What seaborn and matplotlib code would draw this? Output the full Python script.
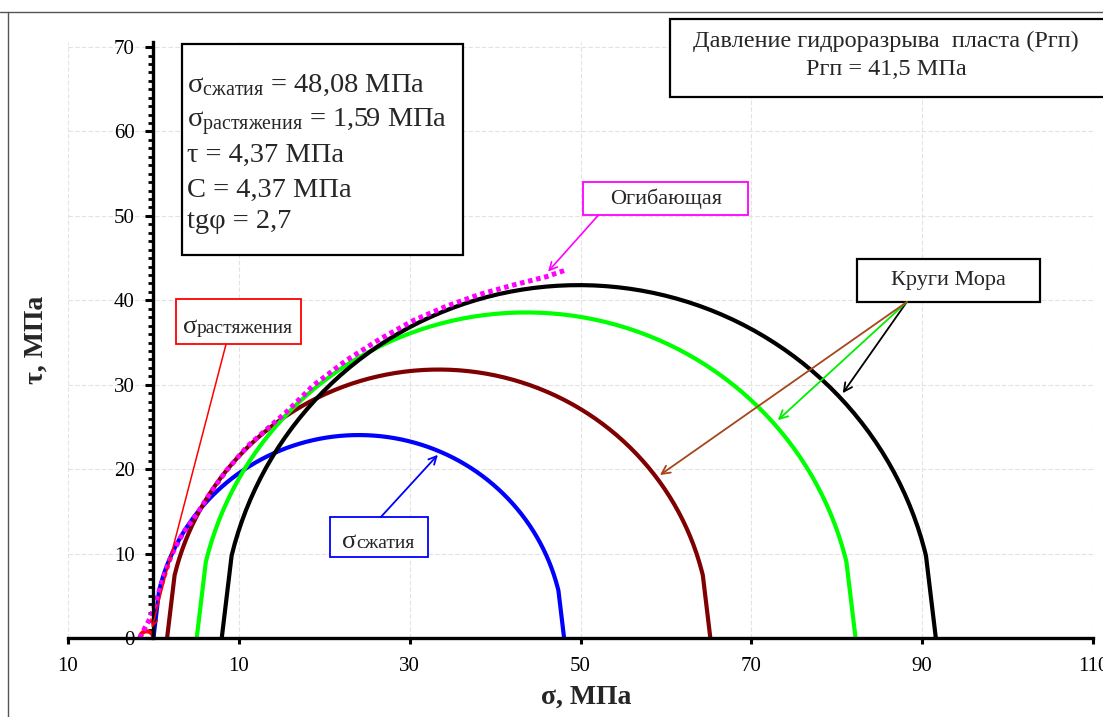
import numpy as np
import pandas as pd
import matplotlib
matplotlib.use("Agg")
import matplotlib.pyplot as plt
from matplotlib.lines import Line2D
from matplotlib.patches import Rectangle
from matplotlib.ticker import FixedLocator, MultipleLocator
import seaborn as sns

# Mohr circles: minor / major principal stress, MPa
circle_names = ["растяжение", "сжатие", "круг 1", "круг 2", "круг 3"]
sigma_3 = [-1.59, 0.0, 1.6, 5.07, 8.0]
sigma_1 = [0.0, 48.08, 65.2, 82.2, 91.6]
circle_colors = ["#FF0000", "#0000FF", "#7F0000", "#00FF00", "#000000"]

# Envelope of the circles (Огибающая)
envelope_sigma = [-1.59, -1.0, -0.4, 0.2, 1.2, 2.1, 3.5, 5.1, 6.6, 8.6, 10.9, 13.0,
                  15.5, 18.7, 22.6, 26.5, 30.4, 34.3, 38.2, 42.1, 46.0, 48.3]
envelope_tau = [0.0, 1.2, 2.3, 4.0, 7.2, 9.8, 12.5, 14.7, 17.1, 19.9, 22.6, 24.5,
                26.7, 29.9, 32.9, 35.4, 37.6, 39.3, 40.7, 41.8, 42.8, 43.6]

x_ticks = [-10, 10, 30, 50, 70, 90, 110]
x_tick_labels = ["10", "10", "30", "50", "70", "90", "110"]
y_ticks = [0, 10, 20, 30, 40, 50, 60, 70]

stats_lines = [
    "σ$_{\\mathregular{сжатия}}$ = 48,08 МПа",
    "σ$_{\\mathregular{растяжения}}$ = 1,59 МПа",
    "τ = 4,37 МПа",
    "C = 4,37 МПа",
    "tgφ = 2,7",
]
pressure_lines = ["Давление гидроразрыва  пласта (Ргп)", "Ргп = 41,5 МПа"]

sns.set_theme(style="white")
plt.rcParams["font.family"] = ["Liberation Serif", "DejaVu Serif"]
plt.rcParams["mathtext.fontset"] = "custom"
plt.rcParams["mathtext.rm"] = "Liberation Serif"
plt.rcParams["mathtext.it"] = "Liberation Serif:italic"
plt.rcParams["mathtext.default"] = "regular"

fig = plt.figure(figsize=(11.03, 7.17), dpi=100)
fig.patch.set_facecolor("white")
ax = fig.add_axes([68 / 1103, 1 - 638 / 717, 1025 / 1103, 596 / 717])
ax.set_facecolor("white")

# circle outlines built from each pair of principal stresses
frames = []
for name, s3, s1 in zip(circle_names, sigma_3, sigma_1):
    c, r = (s1 + s3) / 2, (s1 - s3) / 2
    theta = np.radians(np.concatenate([[0.0], np.linspace(13.5, 166.5, 160), [180.0]]))
    frames.append(pd.DataFrame({
        "circle": name,
        "sigma": c - r * np.cos(theta),
        "tau": r * np.sin(theta),
    }))
circles = pd.concat(frames, ignore_index=True)

sns.lineplot(data=circles, x="sigma", y="tau", hue="circle", hue_order=circle_names,
             palette=dict(zip(circle_names, circle_colors)), sort=False,
             estimator=None, lw=3.0, legend=False, ax=ax, zorder=3)

sns.lineplot(x=envelope_sigma, y=envelope_tau, sort=False, estimator=None,
             color="#FF00FF", lw=3.6, linestyle=(0, (0.9, 0.75)), ax=ax, zorder=4)

# axes and ticks
ax.set_xlim(-10, 110)
ax.set_ylim(0, 70.6)
ax.spines["left"].set_position(("data", 0))
ax.spines["top"].set_visible(False)
ax.spines["right"].set_visible(False)
for side in ("left", "bottom"):
    ax.spines[side].set_linewidth(2.4)
    ax.spines[side].set_color("black")
    ax.spines[side].set_zorder(5)

ax.xaxis.set_major_locator(FixedLocator(x_ticks))
ax.set_xticklabels(x_tick_labels)
ax.yaxis.set_major_locator(FixedLocator(y_ticks))
ax.yaxis.set_minor_locator(MultipleLocator(1))
ax.tick_params(axis="x", which="major", direction="out", length=4.5, width=2.2,
               pad=9, labelsize=15, bottom=True, colors="black")
ax.tick_params(axis="y", which="major", direction="out", length=5.5, width=2.2,
               pad=8, labelsize=15, left=True, colors="black")
ax.tick_params(axis="y", which="minor", direction="out", length=3.5, width=2.0,
               left=True, color="black")
ax.set_xlabel("")
ax.set_ylabel("")

ax.grid(True, which="major", color="#E2E2E2", linestyle=(0, (4, 2)), lw=0.8)
ax.set_axisbelow(True)

fig.text(586 / 1103, 1 - 697 / 717, "σ, МПа", ha="center", va="center",
         fontsize=20, fontweight="bold")
fig.text(36 / 1103, 1 - 340 / 717, "τ, МПа", ha="center", va="center",
         fontsize=20, fontweight="bold", rotation=90)


def frame(x0, y0, x1, y1, color, lw=1.4):
    ax.add_patch(Rectangle((x0, y0), x1 - x0, y1 - y0, fill=True, facecolor="white",
                           edgecolor=color, lw=lw, zorder=6, clip_on=False))


# parameters box
frame(3.35, 45.4, 36.2, 70.36, "black", lw=1.6)
for line, base in zip(stats_lines, [64.7, 60.5, 56.4, 52.2, 48.6]):
    ax.text(3.9, base, line, fontsize=20.5, ha="left", va="baseline", zorder=7)

# fracture pressure box
frame(60.5, 64.1, 111.5, 73.3, "black", lw=1.6)
ax.text(85.8, 70.0, pressure_lines[0], fontsize=17.5, ha="center", va="baseline",
        zorder=7, clip_on=False)
ax.text(85.8, 66.7, pressure_lines[1], fontsize=17.5, ha="center", va="baseline",
        zorder=7, clip_on=False)

# tensile strength label
frame(2.65, 34.8, 17.3, 40.2, "#FF0000", lw=1.3)
ax.text(5.1, 36.1, "σ", fontsize=19, ha="right", va="baseline", zorder=7)
ax.text(5.1, 36.1, "растяжения", fontsize=14, ha="left", va="baseline", zorder=7)
ax.annotate("", xy=(-0.16, 1.2), xytext=(8.5, 34.8),
            arrowprops=dict(arrowstyle="->", color="#FF0000", lw=1.1,
                            mutation_scale=12, shrinkA=0, shrinkB=0), zorder=7)

# compressive strength label
frame(20.7, 9.6, 32.1, 14.3, "#0000FF", lw=1.3)
ax.text(23.8, 10.7, "σ", fontsize=19, ha="right", va="baseline", zorder=7)
ax.text(23.8, 10.7, "сжатия", fontsize=14, ha="left", va="baseline", zorder=7)
ax.annotate("", xy=(33.3, 21.7), xytext=(26.6, 14.3),
            arrowprops=dict(arrowstyle="->", color="#0000FF", lw=1.3,
                            mutation_scale=14, shrinkA=0, shrinkB=0), zorder=7)

# envelope label
frame(50.3, 50.1, 69.6, 54.0, "#FF00FF", lw=1.3)
ax.text(60.0, 52.0, "Огибающая", fontsize=16, ha="center", va="center", zorder=7)
ax.annotate("", xy=(46.2, 43.4), xytext=(52.1, 50.1),
            arrowprops=dict(arrowstyle="->", color="#FF00FF", lw=1.2,
                            mutation_scale=14, shrinkA=0, shrinkB=0), zorder=7)

# Mohr circles label
frame(82.4, 39.8, 103.8, 44.9, "black", lw=1.6)
ax.text(93.1, 42.35, "Круги Мора", fontsize=16, ha="center", va="center", zorder=7)
for tip, col in zip([(80.7, 29.0), (73.1, 25.8), (59.3, 19.3)],
                    ["#000000", "#00EE00", "#A5461C"]):
    ax.annotate("", xy=tip, xytext=(88.2, 39.8),
                arrowprops=dict(arrowstyle="->", color=col, lw=1.3,
                                mutation_scale=15, shrinkA=0, shrinkB=0), zorder=7)

# chart area border
fig.add_artist(Line2D([0, 1], [1 - 12 / 717, 1 - 12 / 717], color="#555555", lw=1.0,
                      transform=fig.transFigure))
fig.add_artist(Line2D([8 / 1103, 8 / 1103], [0, 1 - 12 / 717], color="#555555", lw=1.0,
                      transform=fig.transFigure))

fig.savefig("out.png", dpi=100, facecolor="white")
